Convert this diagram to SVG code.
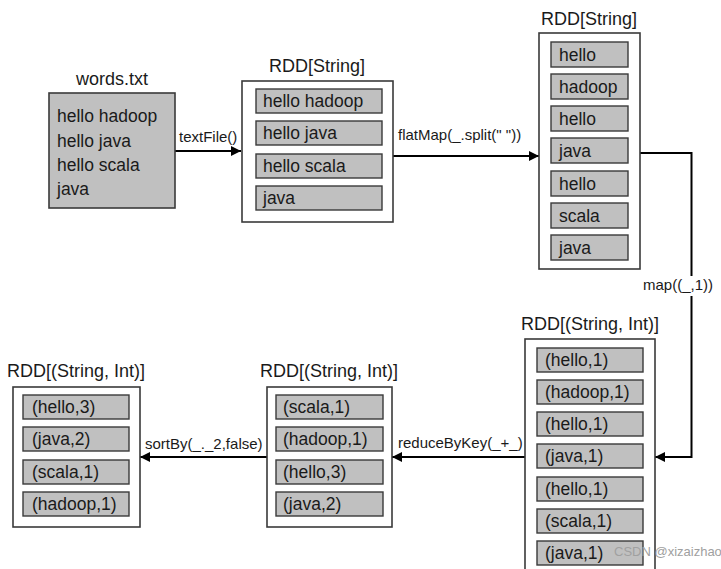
<svg xmlns="http://www.w3.org/2000/svg" width="721" height="569" viewBox="0 0 721 569">
<defs>
<style>
text{font-family:"Liberation Sans",Arial,sans-serif;fill:#1a1a1a}
.t{font-size:18px;text-anchor:middle}
.c{font-size:17.5px}
.l{font-size:15px}
.outer{fill:#fff;stroke:#3a3a3a;stroke-width:1.6}
.cell{fill:#c0c0c0;stroke:#3a3a3a;stroke-width:1.4}
.con{fill:none;stroke:#000;stroke-width:2;marker-end:url(#ah)}
.wm{font-size:13px;fill:#a0a0a0}
</style>
<marker id="ah" viewBox="0 0 10 10" refX="10" refY="5" markerWidth="10" markerHeight="10" markerUnits="userSpaceOnUse" orient="auto"><path d="M0,0L10,5L0,10z" fill="#000"/></marker>
</defs>
<rect width="721" height="569" fill="#fff"/>

<g id="connectors">
<path class="con" d="M175,151H241"/>
<text class="l" x="179" y="142">textFile()</text>
<path class="con" d="M393,156H539"/>
<text class="l" x="398" y="140">flatMap(_.split(" "))</text>
<path class="con" d="M640,153H691.5V457H655"/>
<rect x="642" y="276" width="76" height="20" fill="#fff"/>
<text class="l" x="643" y="290">map((_,1))</text>
<path class="con" d="M525,457H392"/>
<text class="l" x="398" y="448">reduceByKey(_+_)</text>
<path class="con" d="M267,457H140"/>
<text class="l" x="145" y="449">sortBy(_._2,false)</text>
</g>

<g id="words">
<text class="t" x="112" y="85">words.txt</text>
<rect x="49" y="93" width="126" height="115" fill="#c0c0c0" stroke="#3a3a3a" stroke-width="1.6"/>
<text class="c" x="57" y="122">hello hadoop</text>
<text class="c" x="57" y="147">hello java</text>
<text class="c" x="57" y="171">hello scala</text>
<text class="c" x="57" y="195">java</text>
</g>

<g id="rdd1">
<text class="t" x="317" y="72">RDD[String]</text>
<rect class="outer" x="242" y="81" width="151" height="141"/>
<rect class="cell" x="256" y="89" width="126" height="24"/><text class="c" x="263" y="107">hello hadoop</text>
<rect class="cell" x="256" y="121" width="126" height="24"/><text class="c" x="263" y="139">hello java</text>
<rect class="cell" x="256" y="154" width="126" height="24"/><text class="c" x="263" y="172">hello scala</text>
<rect class="cell" x="256" y="186" width="126" height="24"/><text class="c" x="263" y="204">java</text>
</g>

<g id="rdd2">
<text class="t" x="589" y="25">RDD[String]</text>
<rect class="outer" x="539" y="33" width="101" height="236"/>
<rect class="cell" x="551" y="42" width="77" height="25"/><text class="c" x="559" y="61">hello</text>
<rect class="cell" x="551" y="74" width="77" height="25"/><text class="c" x="559" y="93">hadoop</text>
<rect class="cell" x="551" y="106" width="77" height="25"/><text class="c" x="559" y="125">hello</text>
<rect class="cell" x="551" y="138" width="77" height="25"/><text class="c" x="559" y="157">java</text>
<rect class="cell" x="551" y="171" width="77" height="25"/><text class="c" x="559" y="190">hello</text>
<rect class="cell" x="551" y="203" width="77" height="25"/><text class="c" x="559" y="222">scala</text>
<rect class="cell" x="551" y="235" width="77" height="25"/><text class="c" x="559" y="254">java</text>
</g>

<g id="rdd3">
<text class="t" x="590" y="330">RDD[(String, Int)]</text>
<rect class="outer" x="525" y="339" width="130" height="240"/>
<rect class="cell" x="537" y="348" width="106" height="24"/><text class="c" x="545" y="366">(hello,1)</text>
<rect class="cell" x="537" y="380" width="106" height="24"/><text class="c" x="545" y="398">(hadoop,1)</text>
<rect class="cell" x="537" y="412" width="106" height="24"/><text class="c" x="545" y="430">(hello,1)</text>
<rect class="cell" x="537" y="444" width="106" height="24"/><text class="c" x="545" y="462">(java,1)</text>
<rect class="cell" x="537" y="477" width="106" height="24"/><text class="c" x="545" y="495">(hello,1)</text>
<rect class="cell" x="537" y="509" width="106" height="24"/><text class="c" x="545" y="527">(scala,1)</text>
<rect class="cell" x="537" y="541" width="106" height="24"/><text class="c" x="545" y="559">(java,1)</text>
</g>

<g id="rdd4">
<text class="t" x="329" y="377">RDD[(String, Int)]</text>
<rect class="outer" x="267" y="387" width="125" height="140"/>
<rect class="cell" x="276" y="395" width="107" height="24"/><text class="c" x="283" y="413">(scala,1)</text>
<rect class="cell" x="276" y="427" width="107" height="24"/><text class="c" x="283" y="445">(hadoop,1)</text>
<rect class="cell" x="276" y="460" width="107" height="24"/><text class="c" x="283" y="478">(hello,3)</text>
<rect class="cell" x="276" y="492" width="107" height="24"/><text class="c" x="283" y="510">(java,2)</text>
</g>

<g id="rdd5">
<text class="t" x="76" y="377">RDD[(String, Int)]</text>
<rect class="outer" x="13" y="387" width="127" height="140"/>
<rect class="cell" x="23" y="395" width="106" height="24"/><text class="c" x="32" y="413">(hello,3)</text>
<rect class="cell" x="23" y="427" width="106" height="24"/><text class="c" x="32" y="445">(java,2)</text>
<rect class="cell" x="23" y="460" width="106" height="24"/><text class="c" x="32" y="478">(scala,1)</text>
<rect class="cell" x="23" y="492" width="106" height="24"/><text class="c" x="32" y="510">(hadoop,1)</text>
</g>

<text class="wm" x="614" y="556">CSDN @xizaizhao</text>
</svg>
